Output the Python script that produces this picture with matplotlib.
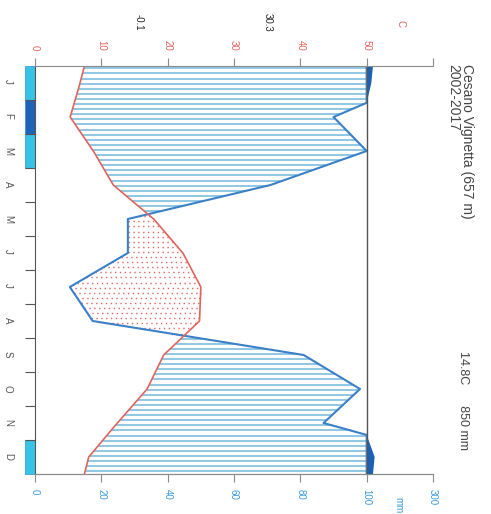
import numpy as np
import matplotlib.pyplot as plt

plt.rcParams['font.family'] = ['Liberation Sans', 'DejaVu Sans']

# Monthly climate data (Walter-Lieth diagram, drawn rotated)
months = ['J', 'F', 'M', 'A', 'M', 'J', 'J', 'A', 'S', 'O', 'N', 'D']
temp = [6.8, 5.3, 8.8, 11.8, 17.9, 22.3, 25.0, 24.8, 19.4, 16.9, 12.4, 8.1]
prec = [114, 90, 100, 71, 28, 28, 10.5, 17.4, 81, 98, 87, 124]
frost = [1, 2, 1, 0, 0, 0, 0, 0, 0, 0, 0, 1]   # 1 = probable, 2 = sure
temp_ticks = [0, 10, 20, 30, 40, 50, 60]
temp_labels = ['0', '10', '20', '30', '40', '50', '']
prec_labels = ['0', '20', '40', '60', '80', '100', '300']
station = 'Cesano Vignetta (657 m)'
period = '2002-2017'
t_mean, p_total = '14.8', '850'
t_min_cold, t_max_warm = '-0.1', '30.3'

RED = '#e0645e'
BLUE = '#3b80c6'
HATCH = '#72b8dc'
DARK = '#1d5fb4'
FROST_COL = {1: '#38c3e6', 2: '#1d63b8'}
GREY = '#8a8a8a'

W, H = 491, 514
fig = plt.figure(figsize=(W / 100, H / 100), dpi=100)
ax = fig.add_axes([35 / W, 1 - 474 / H, (433 - 35) / W, (474 - 66) / H])

# cyclic extension: edges take the mean of Dec and Jan
m = np.arange(1, 13)
ye = np.concatenate([[0.5], m, [12.5]])
te = np.concatenate([[(temp[-1] + temp[0]) / 2], temp, [(temp[-1] + temp[0]) / 2]])
pe = np.concatenate([[(prec[-1] + prec[0]) / 2], prec, [(prec[-1] + prec[0]) / 2]])

yy = np.linspace(0.5, 12.5, 1201)
t_f = np.interp(yy, ye, te)
p_f = np.interp(yy, ye, pe)
p_line = np.minimum(p_f, 100) / 2
p_high = 50 + np.maximum(p_f - 100, 0) / 20

# humid (lines) and dry (dots) periods
yh = np.arange(0.57, 12.5, 0.15)
th = np.interp(yh, ye, te)
ph = np.minimum(np.interp(yh, ye, pe), 100) / 2
wet = ph > th
ax.hlines(yh[wet], th[wet], ph[wet], color=HATCH, lw=1.1)
ax.hlines(yh[~wet], ph[~wet], th[~wet], color=RED, lw=1.0,
          linestyles=[(0, (1, 2.5))])

# precipitation above 100 mm
ax.fill_betweenx(yy, 50, p_high, where=p_f > 100, color=DARK, lw=0)

ax.plot(p_line, yy, color=BLUE, lw=1.5)
ax.plot(t_f, yy, color=RED, lw=1.2)
ax.axvline(50, color='#555555', lw=1)

# frost boxes
for i, f in enumerate(frost):
    if f:
        ax.barh(m[i], 1.5, left=-1.5, height=1, color=FROST_COL[f],
                edgecolor='#2a8fd0', lw=0.5, clip_on=False)

ax.set_xlim(0, 60)
ax.set_ylim(12.5, 0.5)

ax.spines['right'].set_visible(False)
ax.spines['left'].set_color('#555555')
ax.spines['top'].set_color(GREY)
ax.spines['bottom'].set_color(GREY)

# temperature scale (top)
ax.xaxis.tick_top()
ax.set_xticks(temp_ticks, temp_labels)
ax.tick_params(axis='x', direction='out', length=6, color=GREY,
               labelcolor=RED, labelsize=7, labelrotation=-90, pad=5)

# precipitation scale (bottom)
sec = ax.secondary_xaxis('bottom')
sec.set_xticks(temp_ticks, prec_labels)
sec.spines['bottom'].set_color(GREY)
sec.tick_params(axis='x', direction='out', length=6, color=GREY,
                labelcolor='#3a9ad8', labelsize=7, labelrotation=-90, pad=5)

# months (left)
ax.set_yticks(np.arange(1.5, 12, 1), [])
ax.set_yticks(m, months, minor=True)
ax.tick_params(axis='y', which='major', direction='out', length=7,
               color='#555555')
ax.tick_params(axis='y', which='minor', length=0, pad=16, labelsize=7,
               labelrotation=-90, labelcolor='#555555')

# texts
fig.text(400 / W, 1 - 23 / H, 'C', color=RED, fontsize=7, rotation=-90,
         ha='center', va='center')
fig.text(398 / W, 1 - 505 / H, 'mm', color='#3a9ad8', fontsize=7,
         rotation=-90, ha='center', va='center')
fig.text(139 / W, 1 - 22 / H, t_min_cold, color='#222222', fontsize=7,
         rotation=-90, ha='center', va='center')
fig.text(268 / W, 1 - 22 / H, t_max_warm, color='#222222', fontsize=7,
         rotation=-90, ha='center', va='center')
fig.text(474 / W, 1 - 64 / H, station + '\n' + period, color='#444444',
         fontsize=10, rotation=-90, ha='right', va='top',
         multialignment='left', linespacing=0.95)
fig.text(469 / W, 1 - 450 / H, t_mean + 'C      ' + p_total + ' mm',
         color='#444444', fontsize=9, rotation=-90, ha='right', va='bottom')

fig.savefig('out.png', dpi=100)
